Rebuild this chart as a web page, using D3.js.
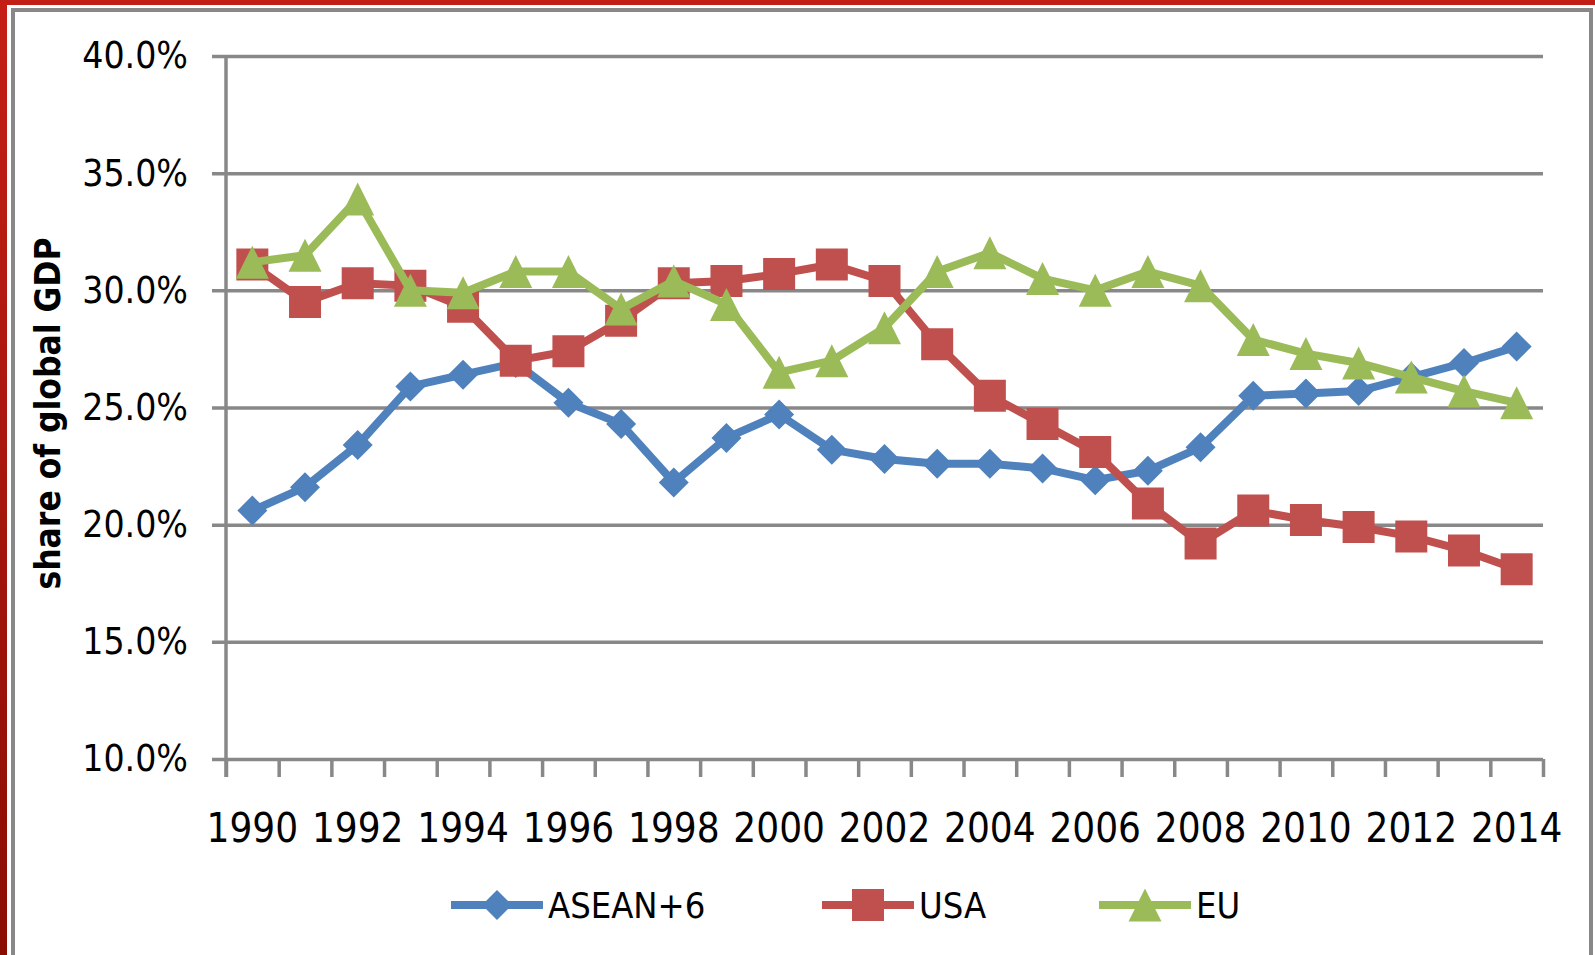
<!DOCTYPE html>
<html>
<head>
<meta charset="utf-8">
<script src="https://cdn.jsdelivr.net/npm/d3@7"></script>
<style>
  html, body { margin: 0; padding: 0; background: #fff; }
  svg { display: block; }
  text { font-family: "DejaVu Sans Condensed", "Liberation Sans", sans-serif; fill: #000; }
</style>
</head>
<body>
<svg id="chart" width="1595" height="955"></svg>
<script>
// share of global GDP, 1990-2014
const years = d3.range(1990, 2015);
const labelYears = d3.range(1990, 2015, 2);
const yTicks = [0.10, 0.15, 0.20, 0.25, 0.30, 0.35, 0.40];

const asean = [20.6, 21.6, 23.4, 25.9, 26.4, 26.9, 25.2, 24.3, 21.8, 23.7, 24.7, 23.2, 22.8, 22.6, 22.6, 22.4, 21.9, 22.3, 23.3, 25.5, 25.6, 25.7, 26.3, 26.9, 27.6];
const usa   = [31.1, 29.5, 30.3, 30.2, 29.3, 27.0, 27.4, 28.7, 30.3, 30.4, 30.7, 31.1, 30.4, 27.7, 25.5, 24.3, 23.1, 20.9, 19.2, 20.6, 20.2, 19.9, 19.5, 18.9, 18.1];
const eu    = [31.2, 31.5, 33.9, 30.0, 29.9, 30.8, 30.8, 29.2, 30.4, 29.4, 26.5, 27.0, 28.4, 30.8, 31.6, 30.5, 30.0, 30.8, 30.2, 27.9, 27.3, 26.9, 26.3, 25.7, 25.2];

const seriesNames = ["ASEAN+6", "USA", "EU"];
const seriesValues = [asean, usa, eu];
const seriesColors = ["#4f81bd", "#c0504d", "#9bbb59"];
const seriesMarkers = ["diamond", "square", "triangle"];

const PLOT = { left: 226, right: 1543, top: 56, bottom: 759 };

const svg = d3.select("#chart");

// outer decoration: red edge + grey frame
const grad = svg.append("defs").append("linearGradient")
  .attr("id", "redEdge").attr("x1", 0).attr("x2", 0).attr("y1", 0).attr("y2", 1);
grad.append("stop").attr("offset", "0%").attr("stop-color", "#c41f16");
grad.append("stop").attr("offset", "100%").attr("stop-color", "#8a0d04");
svg.append("rect").attr("x", 0).attr("y", 0).attr("width", 1595).attr("height", 5).attr("fill", "#c11f15");
svg.append("rect").attr("x", 0).attr("y", 0).attr("width", 7).attr("height", 955).attr("fill", "url(#redEdge)");
svg.append("path")
  .attr("d", "M13,960 V10 H1591 V960")
  .attr("fill", "none").attr("stroke", "#888").attr("stroke-width", 4);

const x = d3.scaleBand().domain(years).range([PLOT.left, PLOT.right]).padding(0);
const xEdge = d3.scaleLinear().domain([0, years.length]).range([PLOT.left, PLOT.right]);
const y = d3.scaleLinear().domain([0.10, 0.40]).range([PLOT.bottom, PLOT.top]);
const cx = yr => x(yr) + x.bandwidth() / 2;

// y axis + gridlines
svg.append("g").attr("transform", `translate(${PLOT.left},0)`)
  .call(d3.axisLeft(y).tickValues(yTicks).tickFormat(d3.format(".1%"))
    .tickSize(-(PLOT.right - PLOT.left)).tickPadding(38))
  .call(ax => ax.select(".domain").remove())
  .call(ax => ax.selectAll(".tick line").attr("x1", -14).attr("stroke", "#888").attr("stroke-width", 3.5))
  .call(ax => ax.selectAll(".tick text").attr("font-size", 37).attr("font-family", null).attr("fill", "#000"));

// x axis tick marks at category edges
svg.append("g").attr("transform", `translate(0,${PLOT.bottom})`)
  .call(d3.axisBottom(xEdge).tickValues(d3.range(years.length + 1)).tickSize(18).tickFormat(""))
  .call(ax => ax.select(".domain").remove())
  .call(ax => ax.selectAll(".tick line").attr("stroke", "#888").attr("stroke-width", 3.5));

// x labels every two years
svg.append("g").attr("transform", `translate(0,${PLOT.bottom})`)
  .call(d3.axisBottom(x).tickValues(labelYears).tickSize(0).tickPadding(55))
  .call(ax => ax.select(".domain").remove())
  .call(ax => ax.selectAll(".tick text").attr("font-size", 40).attr("font-family", null).attr("fill", "#000"));

// vertical axis line
svg.append("line")
  .attr("x1", PLOT.left).attr("x2", PLOT.left)
  .attr("y1", PLOT.top - 1).attr("y2", PLOT.bottom + 18)
  .attr("stroke", "#888").attr("stroke-width", 3.5);

// y title
svg.append("text")
  .attr("transform", `translate(60,${(239 + 588) / 2}) rotate(-90)`)
  .attr("text-anchor", "middle").attr("font-size", 35).attr("font-weight", "bold")
  .text("share of global GDP");

function markerPath(kind, s) {
  const h = s / 2;
  if (kind === "square") return `M${-h},${-h}H${h}V${h}H${-h}Z`;
  if (kind === "diamond") return `M0,${-h}L${h},0L0,${h}L${-h},0Z`;
  return `M0,${-h}L${h},${h}H${-h}Z`;
}
const markerSize = { diamond: 30, square: 32, triangle: 33 };

const line = d3.line().x(d => cx(d.year)).y(d => y(d.v / 100));

seriesNames.forEach((name, i) => {
  const pts = years.map((yr, j) => ({ year: yr, v: seriesValues[i][j] }));
  const g = svg.append("g");
  g.append("path").datum(pts).attr("d", line)
    .attr("fill", "none").attr("stroke", seriesColors[i]).attr("stroke-width", 8)
    .attr("stroke-linejoin", "round");
  g.selectAll("path.m").data(pts).join("path").attr("class", "m")
    .attr("transform", d => `translate(${cx(d.year)},${y(d.v / 100)})`)
    .attr("d", markerPath(seriesMarkers[i], markerSize[seriesMarkers[i]]))
    .attr("fill", seriesColors[i]);
});

// legend
const legendPos = [451, 822, 1099];
const legendY = 905;
seriesNames.forEach((name, i) => {
  const lg = svg.append("g").attr("transform", `translate(${legendPos[i]},${legendY})`);
  lg.append("line").attr("x1", 0).attr("x2", 92).attr("y1", 0).attr("y2", 0)
    .attr("stroke", seriesColors[i]).attr("stroke-width", 8);
  lg.append("path").attr("transform", "translate(46,0)")
    .attr("d", markerPath(seriesMarkers[i], markerSize[seriesMarkers[i]]))
    .attr("fill", seriesColors[i]);
  lg.append("text").attr("x", 97).attr("y", 0).attr("dy", "0.36em")
    .attr("font-size", 36).text(name);
});
</script>
</body>
</html>
